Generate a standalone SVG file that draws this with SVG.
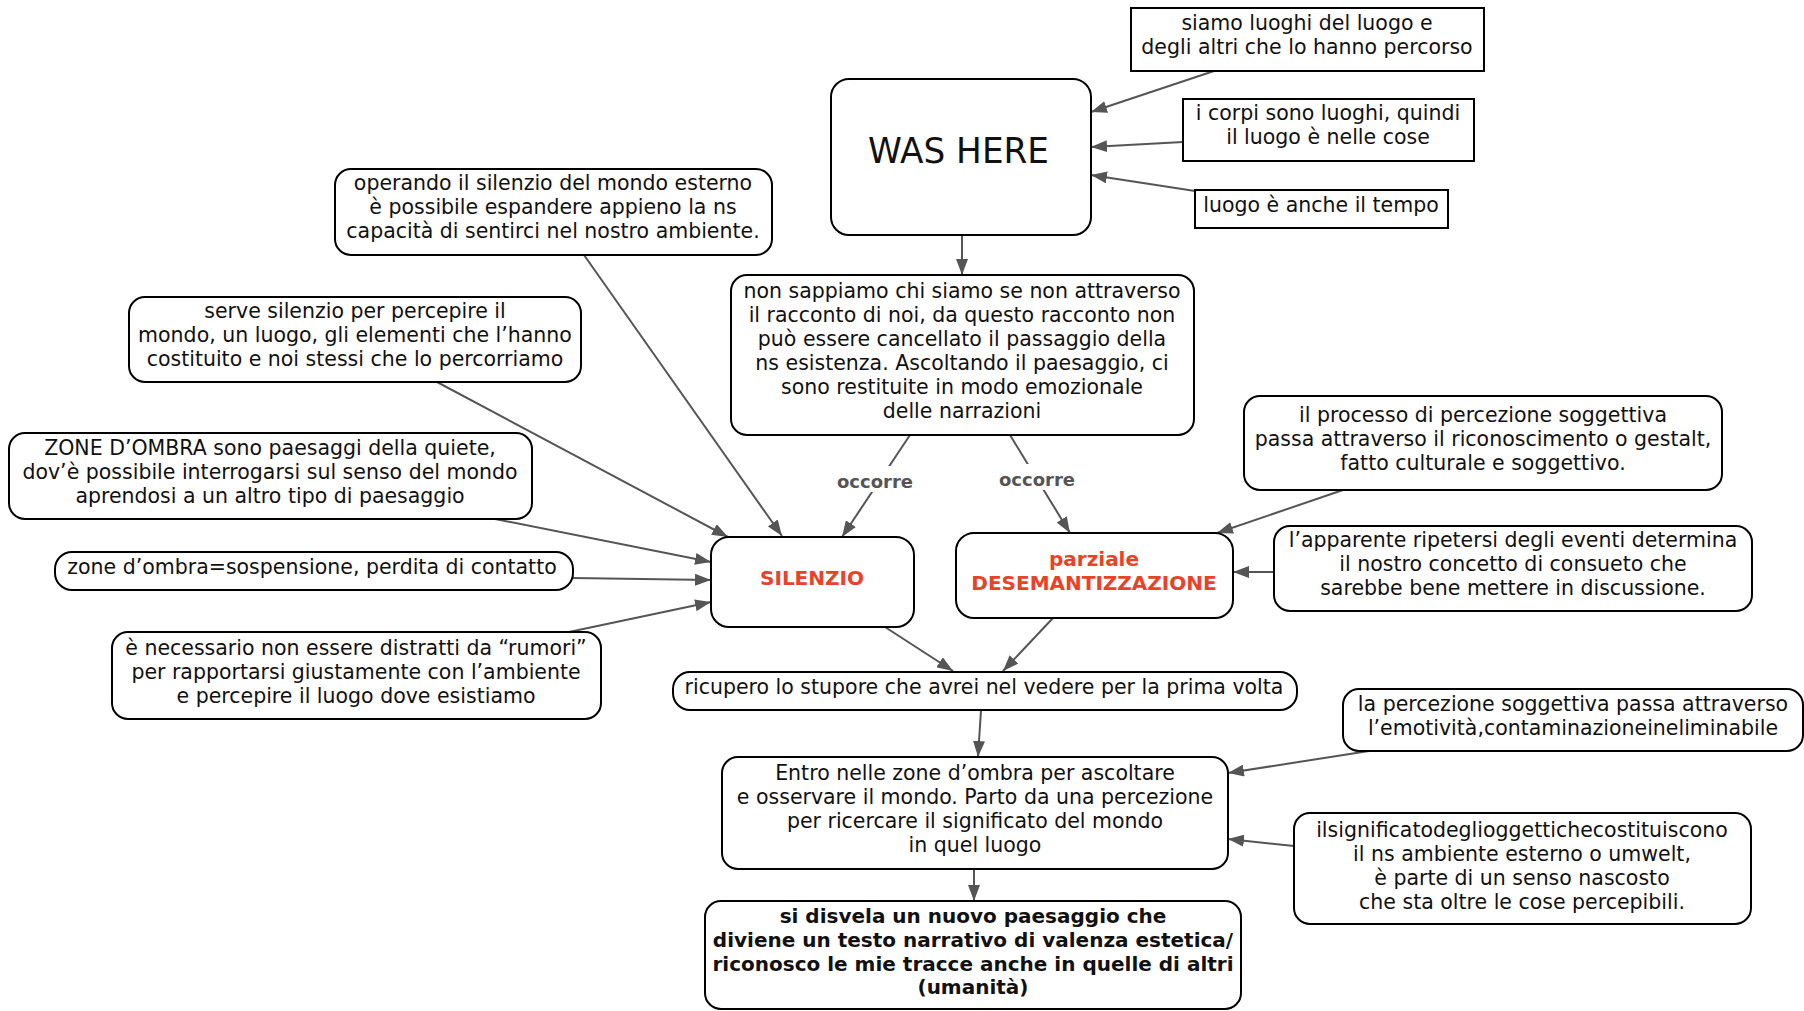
<svg xmlns="http://www.w3.org/2000/svg" width="1804" height="1011" viewBox="0 0 1804 1011">
<style>
.bx{fill:#fff;stroke:#000;stroke-width:2}
.t{font-family:"DejaVu Sans",sans-serif;font-size:20.5px;fill:#111;text-anchor:middle}
.b{font-family:"DejaVu Sans",sans-serif;font-size:20px;font-weight:bold;fill:#111;text-anchor:middle}
.red{font-family:"DejaVu Sans",sans-serif;font-size:20px;font-weight:bold;fill:#ea4228;text-anchor:middle}
.lbl{font-family:"DejaVu Sans",sans-serif;font-size:18px;font-weight:bold;fill:#555;text-anchor:middle}
.c{stroke:#555;stroke-width:2;fill:none;marker-end:url(#arr)}
</style>
<defs>
<marker id="arr" viewBox="0 0 16 12" refX="16" refY="6" markerWidth="16" markerHeight="12" markerUnits="userSpaceOnUse" orient="auto">
<path d="M0,0 L16,6 L0,12 z" fill="#555"/>
</marker>
</defs>
<rect width="1804" height="1011" fill="#fff"/>

<g id="connectors">
<line class="c" x1="1214" y1="71" x2="1091" y2="112"/>
<line class="c" x1="1183" y1="142" x2="1091" y2="147"/>
<line class="c" x1="1195" y1="191" x2="1091" y2="175"/>
<line class="c" x1="962" y1="235" x2="962" y2="275"/>
<line class="c" x1="584" y1="255" x2="782" y2="536"/>
<line class="c" x1="437" y1="382" x2="728" y2="537"/>
<line class="c" x1="495" y1="519" x2="711" y2="562"/>
<line class="c" x1="573" y1="578" x2="711" y2="580"/>
<line class="c" x1="569" y1="632" x2="711" y2="602"/>
<line class="c" x1="910" y1="435" x2="842" y2="537"/>
<line class="c" x1="1010" y1="435" x2="1070" y2="533"/>
<line class="c" x1="1343" y1="490" x2="1217" y2="533"/>
<line class="c" x1="1274" y1="572" x2="1233" y2="572"/>
<line class="c" x1="885" y1="627" x2="953" y2="671"/>
<line class="c" x1="1053" y1="618" x2="1003" y2="671"/>
<line class="c" x1="981" y1="710" x2="978" y2="757"/>
<line class="c" x1="1369" y1="751" x2="1228" y2="773"/>
<line class="c" x1="1294" y1="846" x2="1228" y2="839"/>
<line class="c" x1="974" y1="869" x2="974" y2="901"/>
<rect x="836" y="466" width="78" height="26" fill="#fff"/>
<text class="lbl" x="875" y="488">occorre</text>
<rect x="998" y="464" width="78" height="26" fill="#fff"/>
<text class="lbl" x="1037" y="486">occorre</text>
</g>

<g id="n-siamo">
<rect class="bx" x="1131" y="8" width="353" height="63"/>
<text class="t" x="1307" y="30">siamo luoghi del luogo e</text>
<text class="t" x="1307" y="54">degli altri che lo hanno percorso</text>
</g>
<g id="n-corpi">
<rect class="bx" x="1183" y="99" width="291" height="62"/>
<text class="t" x="1328" y="120">i corpi sono luoghi, quindi</text>
<text class="t" x="1328" y="144">il luogo è nelle cose</text>
</g>
<g id="n-tempo">
<rect class="bx" x="1195" y="190" width="253" height="38"/>
<text class="t" x="1321" y="212">luogo è anche il tempo</text>
</g>
<g id="n-washere">
<rect class="bx" x="831" y="79" width="260" height="156" rx="18"/>
<text x="958.5" y="163" font-family="DejaVu Sans, sans-serif" font-size="36" fill="#111" text-anchor="middle" textLength="181" lengthAdjust="spacingAndGlyphs">WAS HERE</text>
</g>
<g id="n-operando">
<rect class="bx" x="335" y="169" width="437" height="86" rx="16"/>
<text class="t" x="553" y="190">operando il silenzio del mondo esterno</text>
<text class="t" x="553" y="214">è possibile espandere appieno la ns</text>
<text class="t" x="553" y="238">capacità di sentirci nel nostro ambiente.</text>
</g>
<g id="n-nonsappiamo">
<rect class="bx" x="731" y="275" width="463" height="160" rx="16"/>
<text class="t" x="962" y="298">non sappiamo chi siamo se non attraverso</text>
<text class="t" x="962" y="322">il racconto di noi, da questo racconto non</text>
<text class="t" x="962" y="346">può essere cancellato il passaggio della</text>
<text class="t" x="962" y="370">ns esistenza. Ascoltando il paesaggio, ci</text>
<text class="t" x="962" y="394">sono restituite in modo emozionale</text>
<text class="t" x="962" y="418">delle narrazioni</text>
</g>
<g id="n-serve">
<rect class="bx" x="129" y="297" width="452" height="85" rx="16"/>
<text class="t" x="355" y="318">serve silenzio per percepire il</text>
<text class="t" x="355" y="342">mondo, un luogo, gli elementi che l’hanno</text>
<text class="t" x="355" y="366">costituito e noi stessi che lo percorriamo</text>
</g>
<g id="n-zoneombra">
<rect class="bx" x="9" y="433" width="523" height="86" rx="16"/>
<text class="t" x="270" y="455">ZONE D’OMBRA sono paesaggi della quiete,</text>
<text class="t" x="270" y="479">dov’è possibile interrogarsi sul senso del mondo</text>
<text class="t" x="270" y="503">aprendosi a un altro tipo di paesaggio</text>
</g>
<g id="n-sospensione">
<rect class="bx" x="55" y="552" width="518" height="38" rx="17"/>
<text class="t" x="312" y="574">zone d’ombra=sospensione, perdita di contatto</text>
</g>
<g id="n-rumori">
<rect class="bx" x="112" y="632" width="489" height="87" rx="16"/>
<text class="t" x="356" y="655">è necessario non essere distratti da “rumori”</text>
<text class="t" x="356" y="679">per rapportarsi  giustamente con l’ambiente</text>
<text class="t" x="356" y="703">e percepire il luogo dove esistiamo</text>
</g>
<g id="n-silenzio">
<rect class="bx" x="711" y="537" width="203" height="90" rx="18"/>
<text class="red" x="812" y="585">SILENZIO</text>
</g>
<g id="n-desem">
<rect class="bx" x="956" y="533" width="277" height="85" rx="18"/>
<text class="red" x="1094" y="566">parziale</text>
<text class="red" x="1094" y="590">DESEMANTIZZAZIONE</text>
</g>
<g id="n-processo">
<rect class="bx" x="1244" y="396" width="478" height="94" rx="16"/>
<text class="t" x="1483" y="422">il processo di  percezione soggettiva</text>
<text class="t" x="1483" y="446">passa attraverso il riconoscimento o gestalt,</text>
<text class="t" x="1483" y="470">fatto culturale e soggettivo.</text>
</g>
<g id="n-apparente">
<rect class="bx" x="1274" y="526" width="478" height="85" rx="16"/>
<text class="t" x="1513" y="547">l’apparente ripetersi degli eventi determina</text>
<text class="t" x="1513" y="571">il nostro concetto di consueto che</text>
<text class="t" x="1513" y="595">sarebbe  bene mettere in discussione.</text>
</g>
<g id="n-ricupero">
<rect class="bx" x="673" y="672" width="624" height="38" rx="17"/>
<text class="t" x="984" y="694">ricupero lo stupore che avrei nel vedere per la prima volta</text>
</g>
<g id="n-percezione">
<rect class="bx" x="1343" y="689" width="460" height="62" rx="16"/>
<text class="t" x="1573" y="711">la percezione soggettiva passa attraverso</text>
<text class="t" x="1573" y="735">l’emotività,contaminazioneineliminabile</text>
</g>
<g id="n-entro">
<rect class="bx" x="722" y="757" width="506" height="112" rx="16"/>
<text class="t" x="975" y="780">Entro nelle zone d’ombra per ascoltare</text>
<text class="t" x="975" y="804">e osservare il mondo. Parto da una percezione</text>
<text class="t" x="975" y="828">per ricercare il significato del mondo</text>
<text class="t" x="975" y="852">in quel luogo</text>
</g>
<g id="n-significato">
<rect class="bx" x="1294" y="813" width="457" height="111" rx="16"/>
<text class="t" x="1522" y="837">ilsignificatodeglioggettichecostituiscono</text>
<text class="t" x="1522" y="861">il ns ambiente esterno o umwelt,</text>
<text class="t" x="1522" y="885">è parte di un senso nascosto</text>
<text class="t" x="1522" y="909">che sta oltre le cose percepibili.</text>
</g>
<g id="n-disvela">
<rect class="bx" x="705" y="901" width="536" height="108" rx="16"/>
<text class="b" x="973" y="923">si disvela un nuovo paesaggio che</text>
<text class="b" x="973" y="947">diviene un testo narrativo di valenza estetica/</text>
<text class="b" x="973" y="971">riconosco le mie tracce anche in quelle di altri</text>
<text class="b" x="973" y="994" font-size="19">(umanità)</text>
</g>
</svg>
